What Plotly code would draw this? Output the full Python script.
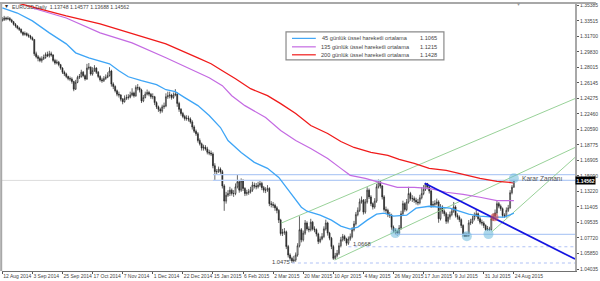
import plotly.graph_objects as go

# Daily bars, prices in 1/10000
close = [13365,13385,13375,13380,13360,13340,13310,13290,13265,13250,13215,13190,13200,13180,13170,13150,
13130,12960,12925,12905,12880,12900,12915,12950,12935,12960,12945,12880,12850,12860,12830,12790,
12740,12720,12690,12665,12660,12630,12540,12620,12680,12690,12740,12700,12660,12790,12800,12720,
12760,12790,12740,12690,12650,12640,12665,12680,12700,12755,12600,12570,12520,12480,12470,12420,
12390,12430,12440,12445,12470,12495,12460,12560,12555,12530,12400,12440,12480,12500,12480,12450,
12450,12380,12330,12300,12280,12330,12340,12450,12460,12470,12440,12470,12480,12370,12300,12250,
12215,12190,12195,12185,12150,12090,12040,12010,11930,11890,11840,11850,11830,11790,11780,11770,
11630,11560,11560,11590,11560,11390,11210,11280,11300,11340,11300,11300,11380,11440,11340,11450,
11360,11300,11310,11320,11340,11400,11390,11380,11400,11420,11370,11340,11340,11360,11180,11170,
11160,11130,11100,10985,10825,10840,10845,10670,10570,10530,10500,10510,10570,10680,10870,10750,
10830,10950,10880,10870,10960,10880,10870,10820,10730,10760,10790,10880,10950,10830,10770,10670,
10530,10560,10590,10680,10750,10790,10760,10710,10760,10790,10870,10940,11050,11100,11200,11220,
11080,11200,11340,11260,11180,11140,11210,11380,11440,11390,11260,11110,11100,11050,11040,10900,
10860,10850,10830,10890,11060,11180,11110,11200,11300,11240,11240,11220,11200,11190,11250,11300,
11350,11420,11380,11330,11160,11170,11180,11200,11000,11140,11090,11060,10970,11020,11050,11090,
11140,11040,11020,10990,10920,10810,10790,10800,10950,10960,11000,11040,11060,11000,10960,10950,
10920,10870,10880,10870,11000,11030,11070,11180,11150,11120,11040,11030,11100,11130,11310,11375,11456]
high = [13395,13410,13400,13405,13395,13375,13350,13325,13300,13280,13260,13225,13225,13215,13200,13185,
13165,13130,12985,12945,12925,12930,12950,12975,12985,12995,12985,12955,12900,12890,12875,12840,
12800,12760,12735,12700,12690,12680,12640,12650,12700,12720,12770,12755,12715,12840,12850,12810,
12800,12825,12800,12755,12705,12675,12695,12715,12740,12800,12770,12620,12585,12535,12510,12480,
12435,12465,12475,12480,12510,12550,12510,12585,12600,12570,12545,12470,12510,12535,12520,12495,
12490,12460,12395,12345,12320,12355,12380,12490,12510,12510,12485,12500,12540,12500,12390,12315,
12270,12235,12230,12225,12205,12170,12110,12060,12030,11955,11905,11880,11875,11855,11820,11810,
11790,11660,11590,11620,11610,11580,11410,11320,11340,11380,11360,11340,11420,11524,11460,11480,
11470,11375,11345,11355,11380,11440,11430,11425,11440,11460,11440,11390,11375,11400,11375,11210,
11200,11180,11150,11115,11000,10880,10890,10860,10690,10590,10550,10560,10600,10710,11030,10890,
10860,10985,10970,10910,11000,10975,10910,10885,10835,10790,10830,10910,10990,10965,10845,10785,
10690,10595,10630,10715,10785,10820,10810,10775,10790,10825,10900,10975,11080,11135,11240,11265,
11235,11235,11375,11360,11280,11195,11245,11415,11467,11455,11400,11280,11145,11120,11080,11060,
10920,10885,10870,10925,11095,11215,11195,11235,11380,11320,11280,11265,11250,11235,11285,11375,
11400,11425,11425,11395,11345,11210,11220,11240,11220,11175,11160,11110,11080,11055,11085,11125,
11200,11160,11065,11040,11005,10935,10840,10835,10985,11000,11035,11075,11110,11075,11020,10990,
10970,10935,10915,10905,11035,11065,11110,11210,11200,11170,11135,11065,11135,11165,11340,11400,11458]
low = [13345,13350,13355,13360,13345,13325,13295,13270,13250,13230,13200,13170,13175,13165,13150,13130,
13115,12935,12905,12870,12860,12855,12885,12900,12920,12915,12925,12860,12830,12835,12810,12770,
12720,12695,12670,12645,12635,12605,12515,12530,12610,12660,12675,12680,12640,12650,12770,12700,
12700,12745,12720,12670,12630,12615,12625,12650,12670,12690,12570,12540,12500,12455,12440,12395,
12360,12380,12410,12415,12430,12455,12440,12450,12525,12500,12375,12385,12430,12465,12455,12425,
12420,12350,12305,12270,12250,12260,12305,12325,12425,12430,12415,12425,12455,12330,12270,12225,
12195,12165,12165,12155,12130,12060,12020,11985,11905,11870,11810,11810,11810,11765,11755,11745,
11600,11450,11530,11545,11535,11360,11095,11180,11260,11270,11275,11260,11280,11360,11310,11320,
11330,11270,11275,11285,11300,11320,11360,11350,11360,11380,11340,11310,11305,11320,11150,11135,
11130,11095,11065,10950,10800,10795,10810,10640,10540,10500,10475,10480,10490,10550,10660,10720,
10730,10810,10860,10840,10850,10860,10840,10790,10700,10710,10745,10770,10860,10800,10745,10640,
10512,10515,10540,10570,10660,10730,10735,10680,10690,10740,10770,10850,10920,11030,11080,11180,
11050,11060,11180,11235,11150,11110,11120,11190,11360,11360,11230,11085,11070,11020,11010,10870,
10830,10815,10800,10810,10870,11040,11085,11090,11180,11215,11200,11190,11170,11160,11170,11230,
11280,11330,11350,11300,11130,11135,11140,11160,10953,10980,11060,11030,10940,10945,10990,11030,
11070,11015,10990,10960,10890,10787,10787,10790,10785,10925,10940,10980,11020,10975,10935,10920,
10890,10858,10858,10860,10860,10975,11010,11050,11125,11095,11015,11010,11015,11080,11120,11290,11369]

# Moving averages, read as vertices (bar index, price)
ma45_bar = [0,8,16,25,34,39,46,52,57,62,67,74,82,87,92,97,104,110,116,120,127,134,141,147,152,156,159,162,169,175,180,185,189,194,199,203,208,215,220,227,233,238,243,248,254,261,267,272]
ma45_val = [13504,13444,13350,13208,13078,12971,12912,12877,12841,12758,12687,12640,12593,12533,12510,12439,12344,12226,12084,11930,11788,11670,11599,11492,11339,11220,11138,11090,11043,10984,10913,10877,10901,10984,11055,11067,11031,11043,11126,11149,11138,11126,11090,11055,11031,11019,11019,11067]
ma135_bar = [16,34,52,69,87,104,110,117,122,129,140,148,156,164,173,180,185,193,201,210,219,227,236,245,254,263,272]
ma135_val = [13504,13385,13208,13089,12912,12735,12675,12581,12462,12344,12202,12048,11930,11835,11717,11599,11516,11481,11433,11374,11374,11362,11315,11291,11256,11215,11215]
ma200_bar = [8,16,34,52,69,87,104,111,117,124,132,141,148,156,164,173,180,187,196,205,211,219,227,236,245,254,263,272]
ma200_val = [13563,13515,13409,13314,13196,13078,12912,12841,12758,12664,12545,12462,12368,12250,12108,12013,11918,11847,11788,11753,11705,11658,11599,11575,11528,11480,11445,11428]

# Drawn objects (bar index, price)
green1_bar, green1_val = [148.2, 304.5], [10948, 12427]
green2_bar, green2_val = [176.7, 304.5], [10510, 11847]
green3_bar, green3_val = [260.1, 304.5], [10842, 11729]
down_bar, down_val = [224.6, 304.5], [11421, 10522]
level_solid = [(112, 11524), (112, 11456), (209, 10815)]
level_dotted = [(154, 10475), (184, 10668)]
blue_circle_bar = [209, 247, 258.5, 272]
blue_circle_val = [10830, 10794, 10818, 11481]
red_circle_bar = [261.7]
red_circle_val = [11019]

date_labels = ["12 Aug 2014","3 Sep 2014","25 Sep 2014","17 Oct 2014","7 Nov 2014","1 Dec 2014","22 Dec 2014",
"15 Jan 2015","6 Feb 2015","2 Mar 2015","20 Mar 2015","10 Apr 2015","4 May 2015","26 May 2015","17 Jun 2015",
"9 Jul 2015","31 Jul 2015","24 Aug 2015"]
date_bars = list(range(0, 273, 16))
price_ticks = [1.35385,1.33515,1.31700,1.29830,1.28015,1.26145,1.24275,1.22460,1.20590,1.18775,1.16905,1.15090,
1.13220,1.11405,1.09535,1.07720,1.05850,1.04035]
legend_names = ["45 günlük üssel hareketli ortalama","135 günlük üssel hareketli ortalama","200 günlük üssel hareketli ortalama"]
legend_values = ["1.1065","1.1215","1.1428"]

BAR_MIN, BAR_MAX = -0.16, 304.5
Y_MIN, Y_MAX = 1.0380, 1.3551
W, H = 600, 281
L, R, T, B = 2, 21, 3, 10
FONT = "Liberation Sans"

def p(v):
    return [x / 10000 for x in v]
def X(px):
    return (px - L) / (W - L - R)
def Y(py):
    return 1 - (py - T) / (H - T - B)

opens = [13350] + close[:-1]
bar_idx = list(range(len(close)))

fig = go.Figure()
fig.add_trace(go.Candlestick(x=bar_idx, open=p(opens), high=p(high), low=p(low), close=p(close),
    increasing=dict(line=dict(color="#222222", width=0.7), fillcolor="#ffffff"),
    decreasing=dict(line=dict(color="#222222", width=0.7), fillcolor="#222222"),
    whiskerwidth=0, showlegend=False, hoverinfo="skip"))

def line(xs, ys, color, width, dash="solid"):
    fig.add_trace(go.Scatter(x=xs, y=p(ys), mode="lines", line=dict(color=color, width=width, dash=dash),
                             showlegend=False, hoverinfo="skip"))

line([BAR_MIN, BAR_MAX], [close[-1], close[-1]], "#dcdcdc", 1)
for start, val in level_solid:
    line([start, BAR_MAX], [val, val], "#b4ccf5", 1.2)
for start, val in level_dotted:
    line([start, BAR_MAX], [val, val], "#9db2f2", 0.8, "dot")
line(green1_bar, green1_val, "#8ccc8c", 0.9)
line(green2_bar, green2_val, "#8ccc8c", 0.9)
line(green3_bar, green3_val, "#8ccc8c", 0.9)
line(ma135_bar, ma135_val, "#c46ae2", 1.2)
line(ma45_bar, ma45_val, "#3ea5f6", 1.3)
line(ma200_bar, ma200_val, "#f01a1a", 1.3)
line(down_bar, down_val, "#1414e0", 1.7)
fig.add_trace(go.Scatter(x=blue_circle_bar, y=p(blue_circle_val), mode="markers",
    marker=dict(size=10, color="rgba(110,185,220,0.55)", line=dict(width=0)), showlegend=False, hoverinfo="skip"))
fig.add_trace(go.Scatter(x=red_circle_bar, y=p(red_circle_val), mode="markers",
    marker=dict(size=8, color="rgba(215,70,70,0.6)", line=dict(width=0)), showlegend=False, hoverinfo="skip"))

shapes = [
    dict(type="line", xref="paper", yref="paper", x0=X(0), x1=X(W), y0=Y(2), y1=Y(2), line=dict(color="#a8a8a8", width=2)),
    dict(type="line", xref="paper", yref="paper", x0=X(1.2), x1=X(1.2), y0=Y(2), y1=Y(271), line=dict(color="#a8a8a8", width=2)),
    dict(type="rect", xref="paper", yref="paper", x0=X(288), x1=X(447), y0=Y(31), y1=Y(59),
         fillcolor="#ffffff", line=dict(color="#8a8a8a", width=1.2), layer="above"),
]
ann = []
def text(px, py, s, size=5.6, color="#444444", anchor="left"):
    ann.append(dict(xref="paper", yref="paper", x=X(px), y=Y(py), text=s, showarrow=False, xanchor=anchor,
                    yanchor="middle", align="left", font=dict(family=FONT, size=size, color=color)))

for row, (ypx, col, name, val) in enumerate(zip([37.5, 46, 54], ["#3ea5f6", "#c46ae2", "#f01a1a"], legend_names, legend_values)):
    shapes.append(dict(type="line", xref="paper", yref="paper", x0=X(294), x1=X(318), y0=Y(ypx), y1=Y(ypx),
                       line=dict(color=col, width=1.2), layer="above"))
    text(322 if row == 0 else 321, ypx, name)
    text(442, ypx, val, anchor="right")

text(3, 5.5, "▾", 6, "#333333")
text(10, 6, "EURUSD,Daily  1.13748 1.14577 1.13688 1.14562", 5.2, "#444444")
text(519, 3.5, "▾", 6, "#999999")
text(524, 178, "Karar Zamanı", 6.6, "#555555")
text(353, 244, "1.0668", 5.8, "#444444")
text(272, 262, "1.0475", 5.8, "#444444")
ann.append(dict(xref="paper", yref="paper", x=X(579.5), y=Y(180.3), text="<b>1.14562</b>", showarrow=False, xanchor="left",
                yanchor="middle", bgcolor="#000000", font=dict(family=FONT, size=5, color="#ffffff"), borderpad=0.5))

fig.update_layout(width=W, height=H, margin=dict(l=L, r=R, t=T, b=B), paper_bgcolor="#ffffff", plot_bgcolor="#ffffff",
    showlegend=False, shapes=shapes, annotations=ann, hovermode=False, dragmode=False,
    font=dict(family=FONT, size=5, color="#444444"))
fig.update_xaxes(range=[BAR_MIN, BAR_MAX], rangeslider=dict(visible=False), showgrid=False, zeroline=False,
    tickmode="array", tickvals=date_bars, ticktext=date_labels, ticks="outside", ticklen=2, tickcolor="#555555", tickwidth=1,
    tickangle=0, ticklabelposition="outside right", ticklabelstandoff=0, tickfont=dict(family=FONT, size=5, color="#444444"),
    showline=True, linecolor="#707070", linewidth=1)
fig.update_yaxes(range=[Y_MIN, Y_MAX], side="right", showgrid=False, zeroline=False,
    tickmode="array", tickvals=price_ticks, ticktext=[f"{t:.5f}" for t in price_ticks], ticks="outside", ticklen=2,
    tickcolor="#555555", tickwidth=1, tickfont=dict(family=FONT, size=5, color="#444444"),
    showline=True, linecolor="#a8a8a8", linewidth=2)

fig.write_html("out.html", config=dict(displayModeBar=False, staticPlot=True),
               post_script="document.body.style.margin='0';document.body.style.overflow='hidden';")
